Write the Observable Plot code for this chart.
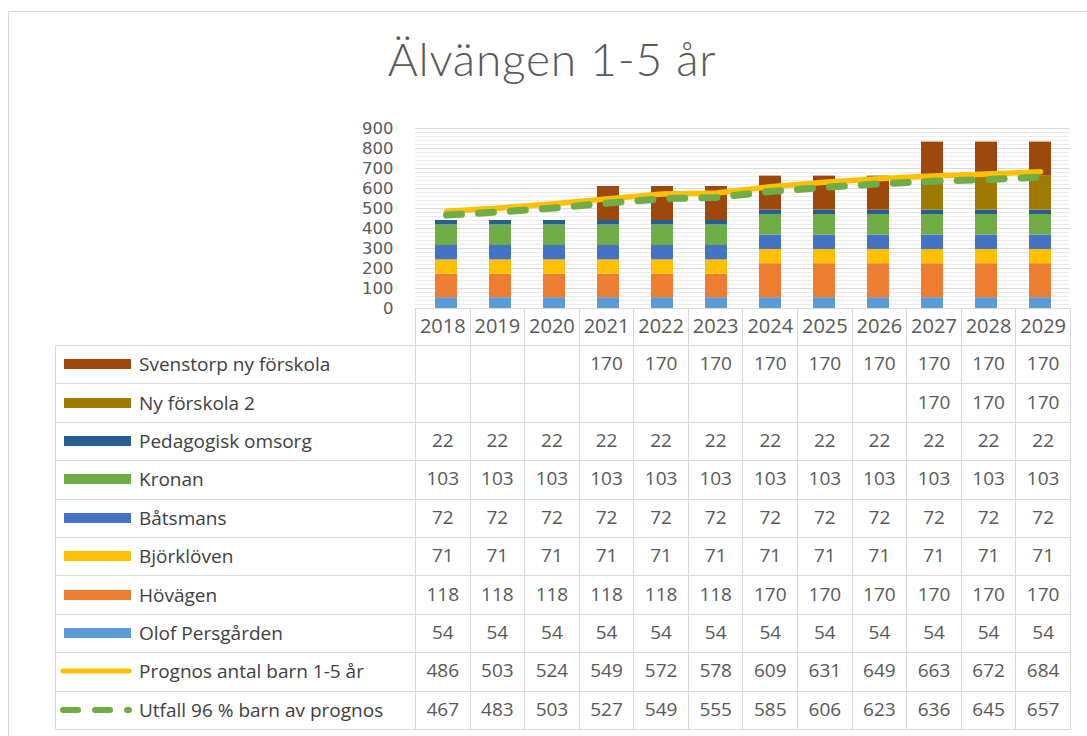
<!DOCTYPE html>
<html>
<head>
<meta charset="utf-8">
<script src="https://cdn.jsdelivr.net/npm/d3@7"></script>
<script src="https://cdn.jsdelivr.net/npm/@observablehq/plot@0.6"></script>
<style>
  html, body { margin: 0; padding: 0; background: #fff; }
  #wrap { position: relative; width: 1087px; height: 736px; overflow: hidden; font-family: "Open Sans", sans-serif; }
  #frame { position: absolute; left: 8px; top: 11px; width: 1200px; height: 800px; border: 1px solid #d9d9d9; box-sizing: border-box; }
  #title { position: absolute; left: 0; width: 1104px; top: 29px; text-align: center; font-family: Lato, "Open Sans", sans-serif; font-weight: 300; font-size: 46px; color: #595959; line-height: 60px; letter-spacing: 0.8px; }
  #chart { position: absolute; left: 0; top: 110px; }
  #tbl { position: absolute; left: 55px; top: 308px; border-collapse: collapse; table-layout: fixed; color: #595959; font-size: 19px; }
  #tbl td { border: 1px solid #d9d9d9; padding: 0 0 3px 0; text-align: center; white-space: nowrap; }
  #tbl tr.head td { height: 33px; font-size: 20px; }
  #tbl tr.row td { height: 34.4px; }
  #tbl td.blank { border: none; }
  #tbl td.lab { text-align: left; color: #404040; }
  .sw { display: inline-block; vertical-align: middle; margin-left: 3px; margin-right: 6px; }
  .lt { vertical-align: middle; }
</style>
</head>
<body>
<div id="wrap">
  <div id="frame"></div>
  <div id="title">Älvängen 1-5 år</div>
  <div id="chart"></div>
  <table id="tbl"></table>
</div>
<script>
// ---- Data ----
const years = ["2018","2019","2020","2021","2022","2023","2024","2025","2026","2027","2028","2029"];
const olofPersgarden = [54,54,54,54,54,54,54,54,54,54,54,54];
const hovagen = [118,118,118,118,118,118,170,170,170,170,170,170];
const bjorkloven = [71,71,71,71,71,71,71,71,71,71,71,71];
const batsmans = [72,72,72,72,72,72,72,72,72,72,72,72];
const kronan = [103,103,103,103,103,103,103,103,103,103,103,103];
const pedagogiskOmsorg = [22,22,22,22,22,22,22,22,22,22,22,22];
const nyForskola2 = [null,null,null,null,null,null,null,null,null,170,170,170];
const svenstorp = [null,null,null,170,170,170,170,170,170,170,170,170];
const prognos = [486,503,524,549,572,578,609,631,649,663,672,684];
const utfall = [467,483,503,527,549,555,585,606,623,636,645,657];
const yTicks = [0,100,200,300,400,500,600,700,800,900];

// stacked series, bottom to top
const barSeries = [
  {name: "Olof Persgården", values: olofPersgarden, color: "#5B9BD5"},
  {name: "Hövägen", values: hovagen, color: "#ED7D31"},
  {name: "Björklöven", values: bjorkloven, color: "#FFC000"},
  {name: "Båtsmans", values: batsmans, color: "#4472C4"},
  {name: "Kronan", values: kronan, color: "#70AD47"},
  {name: "Pedagogisk omsorg", values: pedagogiskOmsorg, color: "#255E91"},
  {name: "Ny förskola 2", values: nyForskola2, color: "#9E7A00"},
  {name: "Svenstorp ny förskola", values: svenstorp, color: "#9E480E"}
];
const lineSeries = [
  {name: "Prognos antal barn 1-5 år", values: prognos, color: "#FFC000", type: "solid"},
  {name: "Utfall 96 % barn av prognos", values: utfall, color: "#70AD47", type: "dash"}
];

const barData = [];
barSeries.forEach(s => s.values.forEach((v, i) => { if (v != null) barData.push({year: years[i], series: s.name, value: v}); }));
const progData = years.map((y, i) => ({year: y, value: prognos[i]}));
const utfData = years.map((y, i) => ({year: y, value: utfall[i]}));

const minorTicks = d3.range(0, 901, 20).filter(v => v % 100 !== 0);

const chart = Plot.plot({
  width: 1087,
  height: 200,
  marginLeft: 415,
  marginRight: 17,
  marginTop: 18,
  marginBottom: 2,
  style: {fontFamily: "'DejaVu Sans', sans-serif", fontSize: "16.5px", color: "#595959", background: "transparent", overflow: "visible"},
  x: {domain: years, type: "band", paddingInner: 0.6, paddingOuter: 0.3, axis: null},
  y: {domain: [0, 900], ticks: yTicks, tickSize: 0, tickPadding: 22, tickFormat: d => String(d), label: null},
  color: {domain: barSeries.map(s => s.name), range: barSeries.map(s => s.color)},
  marks: [
    Plot.ruleY(minorTicks, {stroke: "#ececec", strokeWidth: 1}),
    Plot.ruleY(yTicks, {stroke: "#d9d9d9", strokeWidth: 1}),
    Plot.barY(barData, {x: "year", y: "value", fill: "series", order: barSeries.map(s => s.name)}),
    Plot.line(progData, {x: "year", y: "value", stroke: "#FFC000", strokeWidth: 5.5, strokeLinecap: "round"}),
    Plot.line(utfData, {x: "year", y: "value", stroke: "#70AD47", strokeWidth: 7, strokeDasharray: "15,17", strokeLinecap: "round"}),
    Plot.axisY({ticks: yTicks, tickSize: 0, tickPadding: 22, tickFormat: d => String(d), label: null, fill: "#595959", fontSize: 16.5})
  ]
});
document.getElementById("chart").appendChild(chart);

// ---- Data table ----
const tbl = document.getElementById("tbl");
const colg = document.createElement("colgroup");
const c0 = document.createElement("col"); c0.style.width = "360px"; colg.appendChild(c0);
years.forEach(() => { const c = document.createElement("col"); c.style.width = (655 / 12) + "px"; colg.appendChild(c); });
tbl.appendChild(colg);

const head = document.createElement("tr"); head.className = "head";
const blank = document.createElement("td"); blank.className = "blank"; head.appendChild(blank);
years.forEach(y => { const td = document.createElement("td"); td.textContent = y; head.appendChild(td); });
tbl.appendChild(head);

function swatch(s) {
  const ns = "http://www.w3.org/2000/svg";
  const svg = document.createElementNS(ns, "svg");
  svg.setAttribute("width", 74); svg.setAttribute("height", 14); svg.setAttribute("class", "sw");
  if (s.type === "solid") {
    const l = document.createElementNS(ns, "line");
    l.setAttribute("x1", 4); l.setAttribute("x2", 70); l.setAttribute("y1", 7); l.setAttribute("y2", 7);
    l.setAttribute("stroke", s.color); l.setAttribute("stroke-width", 5); l.setAttribute("stroke-linecap", "round");
    svg.appendChild(l);
  } else if (s.type === "dash") {
    const l = document.createElementNS(ns, "line");
    l.setAttribute("x1", 4); l.setAttribute("x2", 70); l.setAttribute("y1", 7); l.setAttribute("y2", 7);
    l.setAttribute("stroke", s.color); l.setAttribute("stroke-width", 6); l.setAttribute("stroke-linecap", "round");
    l.setAttribute("stroke-dasharray", "15,17");
    svg.appendChild(l);
  } else {
    const r = document.createElementNS(ns, "rect");
    r.setAttribute("x", 5); r.setAttribute("y", 2); r.setAttribute("width", 67); r.setAttribute("height", 10);
    r.setAttribute("fill", s.color);
    svg.appendChild(r);
  }
  return svg;
}

const tableRows = [...barSeries.slice().reverse(), ...lineSeries];
tableRows.forEach(s => {
  const tr = document.createElement("tr"); tr.className = "row";
  const lab = document.createElement("td"); lab.className = "lab";
  lab.appendChild(swatch(s));
  const sp = document.createElement("span"); sp.className = "lt"; sp.textContent = s.name; lab.appendChild(sp);
  tr.appendChild(lab);
  s.values.forEach(v => { const td = document.createElement("td"); td.textContent = v == null ? "" : String(v); tr.appendChild(td); });
  tbl.appendChild(tr);
});
</script>
</body>
</html>
